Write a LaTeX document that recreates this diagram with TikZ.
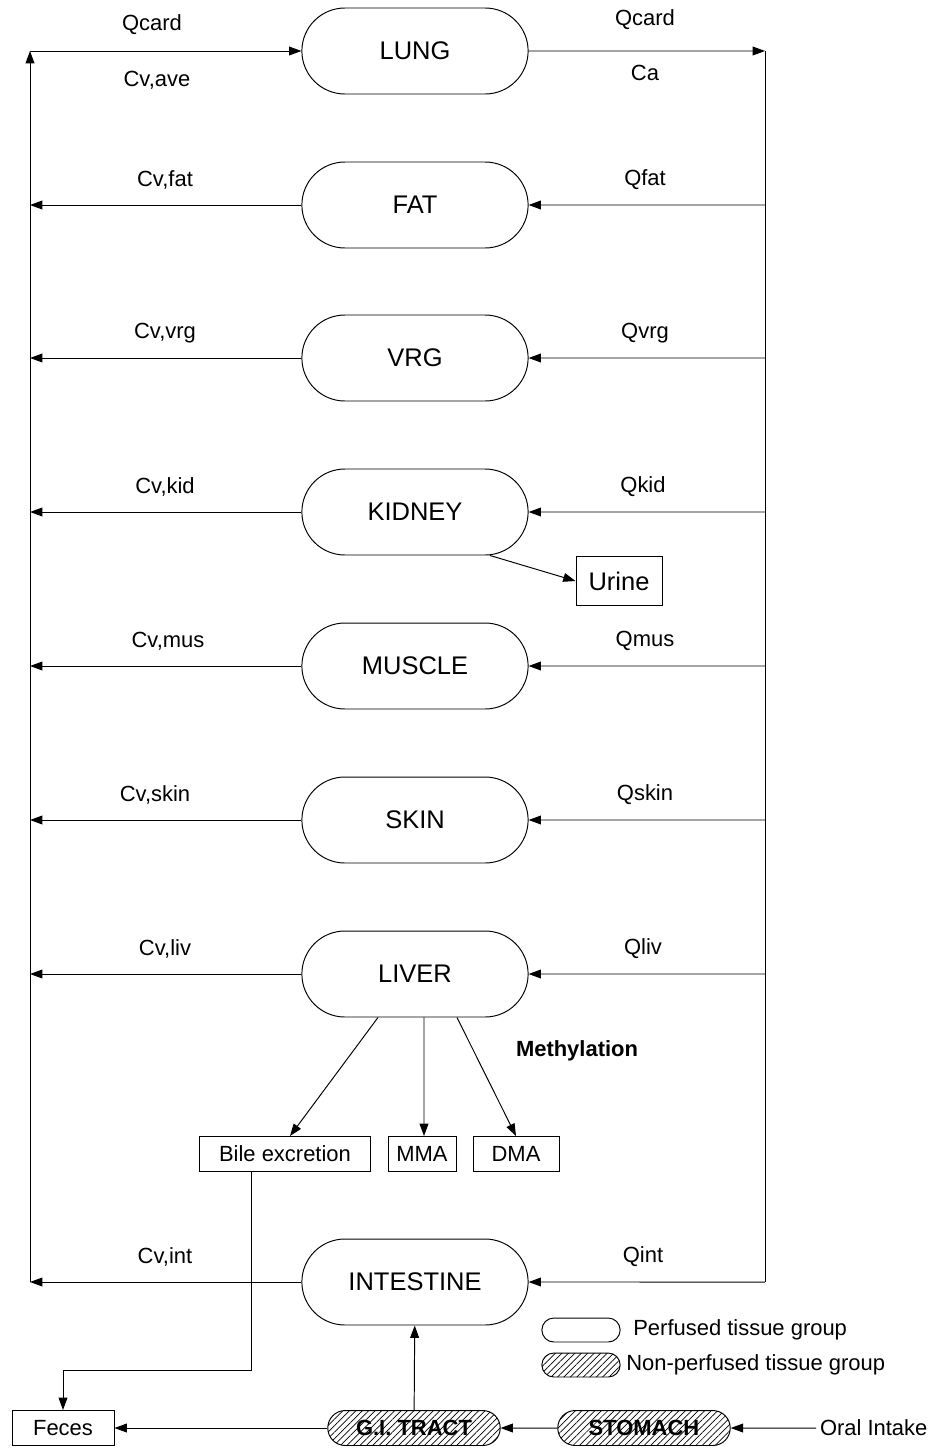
\documentclass[tikz,border=0pt]{standalone}
\usepackage{fontspec}
\setmainfont{Liberation Sans}
\usetikzlibrary{positioning,arrows.meta,shapes.misc,patterns.meta}

\begin{document}
\begin{tikzpicture}[x=0.02cm,y=-0.02cm,->,>={Triangle[length=7pt,width=5pt]},line width=0.55pt,
  organ/.style={rounded rectangle,draw,minimum width=4.76cm,minimum height=1.72cm,font=\fontsize{14.5}{16}\selectfont},
  gut/.style={rounded rectangle,draw,pattern={Lines[angle=45,distance=2.6pt,line width=0.4pt]},minimum width=3.52cm,minimum height=0.7cm,inner sep=1pt,font=\bfseries\fontsize{12.5}{14}\selectfont},
  outbox/.style={rectangle,draw,minimum height=0.7cm,font=\fontsize{12.5}{14}\selectfont},
  lbl/.style={font=\fontsize{12.5}{14}\selectfont}]

    \useasboundingbox (0,0) rectangle (929,1450);

    % The compartments
	\node [organ] at (415,51) (lung) {LUNG};
	\node [organ] at (415,205) (fat) {FAT};
	\node [organ] at (415,358) (vrg) {VRG};
	\node [organ] at (415,512) (kidney) {KIDNEY};
	\node [organ] at (415,666) (muscle) {MUSCLE};
	\node [organ] at (415,820) (skin) {SKIN};
	\node [organ] at (415,974) (liver) {LIVER};
	\node [organ] at (415,1282) (intestine) {INTESTINE};

	\node [outbox,minimum width=1.72cm,minimum height=0.98cm,font=\fontsize{14.5}{16}\selectfont] at (619,581) (urine) {Urine};
	\node [outbox,minimum width=3.42cm] at (285,1154) (bile) {Bile excretion};
	\node [outbox,minimum width=1.36cm,inner sep=1pt] at (422,1154) (mma) {MMA};
	\node [outbox,minimum width=1.72cm] at (516,1154) (dma) {DMA};
	\node [outbox,minimum width=2.04cm] at (63,1428) (feces) {Feces};
	\node [lbl,font=\bfseries\fontsize{12.5}{14}\selectfont] at (577,1051) (methyl) {Methylation};

	\node [gut] at (414,1428) (gi) {G.I. TRACT};
	\node [gut] at (644,1428) (stomach) {STOMACH};
	\node [lbl,anchor=west,inner sep=2pt] at (816,1428) (oral) {Oral Intake};

	% Blood lines
	\coordinate (lt) at (30,51);
	\coordinate (lb) at (30,1282);
	\coordinate (rt) at (765,51);
	\coordinate (rb) at (765,1282);

	% Flow labels
	\node [lbl] at (152,25) (qcardin) {Qcard};
	\node [lbl] at (157,80) (cvave) {Cv,ave};
	\node [lbl] at (645,20) (qcardout) {Qcard};
	\node [lbl] at (645,73) (ca) {Ca};
	\node [lbl] at (165,180) (cvfat) {Cv,fat};
	\node [lbl] at (645,180) (qfat) {Qfat};
	\node [lbl] at (165,333) (cvvrg) {Cv,vrg};
	\node [lbl] at (645,333) (qvrg) {Qvrg};
	\node [lbl] at (165,487) (cvkid) {Cv,kid};
	\node [lbl] at (643,487) (qkid) {Qkid};
	\node [lbl] at (168,641) (cvmus) {Cv,mus};
	\node [lbl] at (645,641) (qmus) {Qmus};
	\node [lbl] at (155,795) (cvskin) {Cv,skin};
	\node [lbl] at (645,795) (qskin) {Qskin};
	\node [lbl] at (165,949) (cvliv) {Cv,liv};
	\node [lbl] at (643,949) (qliv) {Qliv};
	\node [lbl] at (165,1257) (cvint) {Cv,int};
	\node [lbl] at (643,1257) (qint) {Qint};

	% Legend
	\node [rounded rectangle,draw,minimum width=1.8cm,minimum height=0.48cm] at (581,1330) (perf) {};
	\node [lbl,anchor=west] at (627,1330) (perftxt) {Perfused tissue group};
	\node [rounded rectangle,draw,pattern={Lines[angle=45,distance=2.6pt,line width=0.4pt]},minimum width=1.8cm,minimum height=0.48cm] at (581,1365) (nonperf) {};
	\node [lbl,anchor=west] at (620,1365) (nonperftxt) {Non-perfused tissue group};

	% Graph edges
	\draw [->] (lb) -- (lt);
	\draw [->] (lt) -- (lung);
	\draw [->] (lung) -- (rt);
	\draw [-] (rt) -- (rb);

	\path[->]
	(fat.east -| rt) edge (fat)
	(fat) edge (fat.west -| lt)
	(vrg.east -| rt) edge (vrg)
	(vrg) edge (vrg.west -| lt)
	(kidney.east -| rt) edge (kidney)
	(kidney) edge (kidney.west -| lt)
	(muscle.east -| rt) edge (muscle)
	(muscle) edge (muscle.west -| lt)
	(skin.east -| rt) edge (skin)
	(skin) edge (skin.west -| lt)
	(liver.east -| rt) edge (liver)
	(liver) edge (liver.west -| lt)
	(rb) edge (intestine)
	(intestine) edge (lb)
	([xshift=1.5cm]kidney.south) edge (urine.west)
	([xshift=-0.74cm]liver.south) edge ([xshift=0.1cm]bile.north)
	([xshift=0.18cm]liver.south) edge ([xshift=0.04cm]mma.north)
	([xshift=0.84cm]liver.south) edge (dma.north)
	(gi) edge (intestine)
	(gi) edge (feces)
	(stomach) edge (gi)
	(oral) edge (stomach)
	;

	\coordinate (bend1) at (251,1370);
	\coordinate (bend2) at (63,1370);
	\draw [->] (bend1 |- bile.south) -- (bend1) -- (bend2) -- (feces);

\end{tikzpicture}
\end{document}
